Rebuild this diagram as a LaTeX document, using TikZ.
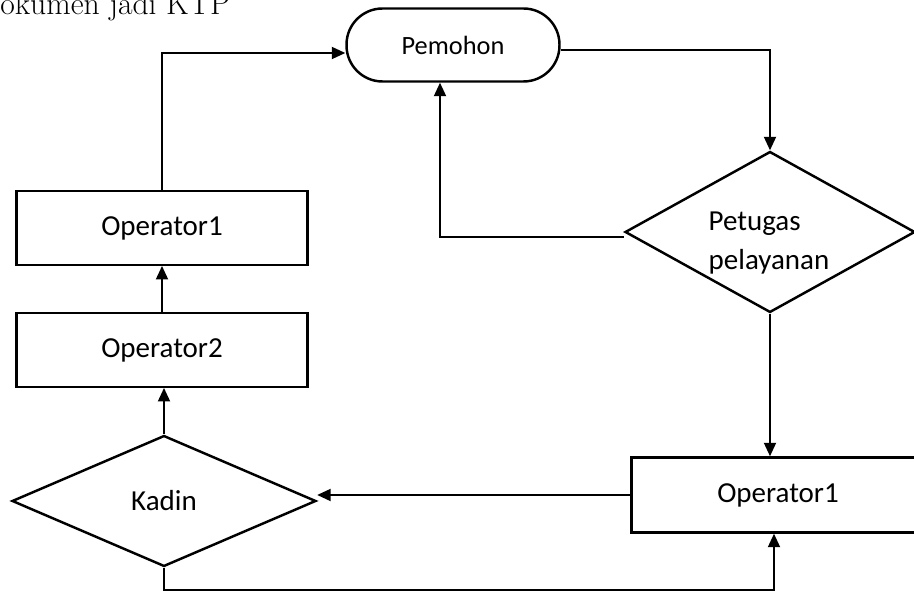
\documentclass[tikz,border=0pt]{standalone}
\usepackage{fontspec}
\newfontfamily\calib{Carlito}
\usetikzlibrary{arrows.meta,shapes.geometric}

\begin{document}
\begin{tikzpicture}[x=0.02cm,y=-0.02cm,
      box/.style={draw,line width=1.4pt,minimum width=5.82cm,minimum height=1.47cm,
                  inner sep=0pt,font=\calib\fontsize{16.5}{20}\selectfont},
      dec/.style={draw,diamond,line width=1.4pt,inner sep=0pt,
                  font=\calib\fontsize{16.5}{20}\selectfont},
      term/.style={draw,line width=1.4pt,rounded corners=0.72cm,minimum width=4.26cm,
                  minimum height=1.46cm,font=\calib\fontsize{15}{18}\selectfont},
      txt/.style={align=left,inner sep=0pt,font=\calib\fontsize{16.5}{22.7}\selectfont},
      arr/.style={line width=1.1pt,-{Triangle[length=0.27cm,width=0.24cm]}}]
    \useasboundingbox (0,0) rectangle (914,597);
    \clip (0,0) rectangle (914,597);
    \node[anchor=base west,inner sep=0pt,font=\fontsize{18}{22}\selectfont] (ttl) at (0,15) {okumen jadi KTP};
    \node[term] (pem) at (453,45) {Pemohon};
    \node[dec,minimum width=5.8cm,minimum height=3.22cm,aspect=1.8] (pet) at (770,232) {};
    \node[txt] (pett) at (769,243) {Petugas\\pelayanan};
    \node[box] (op1a) at (162,228) {Operator1};
    \node[box] (op2) at (162,350) {Operator2};
    \node[dec,minimum width=6.08cm,minimum height=2.62cm,aspect=2.32] (kad) at (164,501) {Kadin};
    \node[box,minimum width=5.86cm,minimum height=1.5cm] (opr) at (778,495) {Operator1};
    % alur
    \draw[arr] (op1a.north) |- ([yshift=-0.16cm]pem.west);
    \draw[arr] ([yshift=-0.1cm]pem.east) -| (pet.north);
    \draw[arr] ([yshift=-0.1cm]pet.west) -| ([xshift=-0.26cm]pem.south);
    \draw[arr] (pet.south) -- (pet.south |- opr.north);
    \draw[arr] (opr.west) -- (kad.east |- opr.west);
    \draw[arr] (kad.south) -- ++(0,22) -| ([xshift=-0.08cm]opr.south);
    \draw[arr] (kad.north) -- (kad.north |- op2.south);
    \draw[arr] (op2.north) -- (op1a.south);
  \end{tikzpicture}
\end{document}
